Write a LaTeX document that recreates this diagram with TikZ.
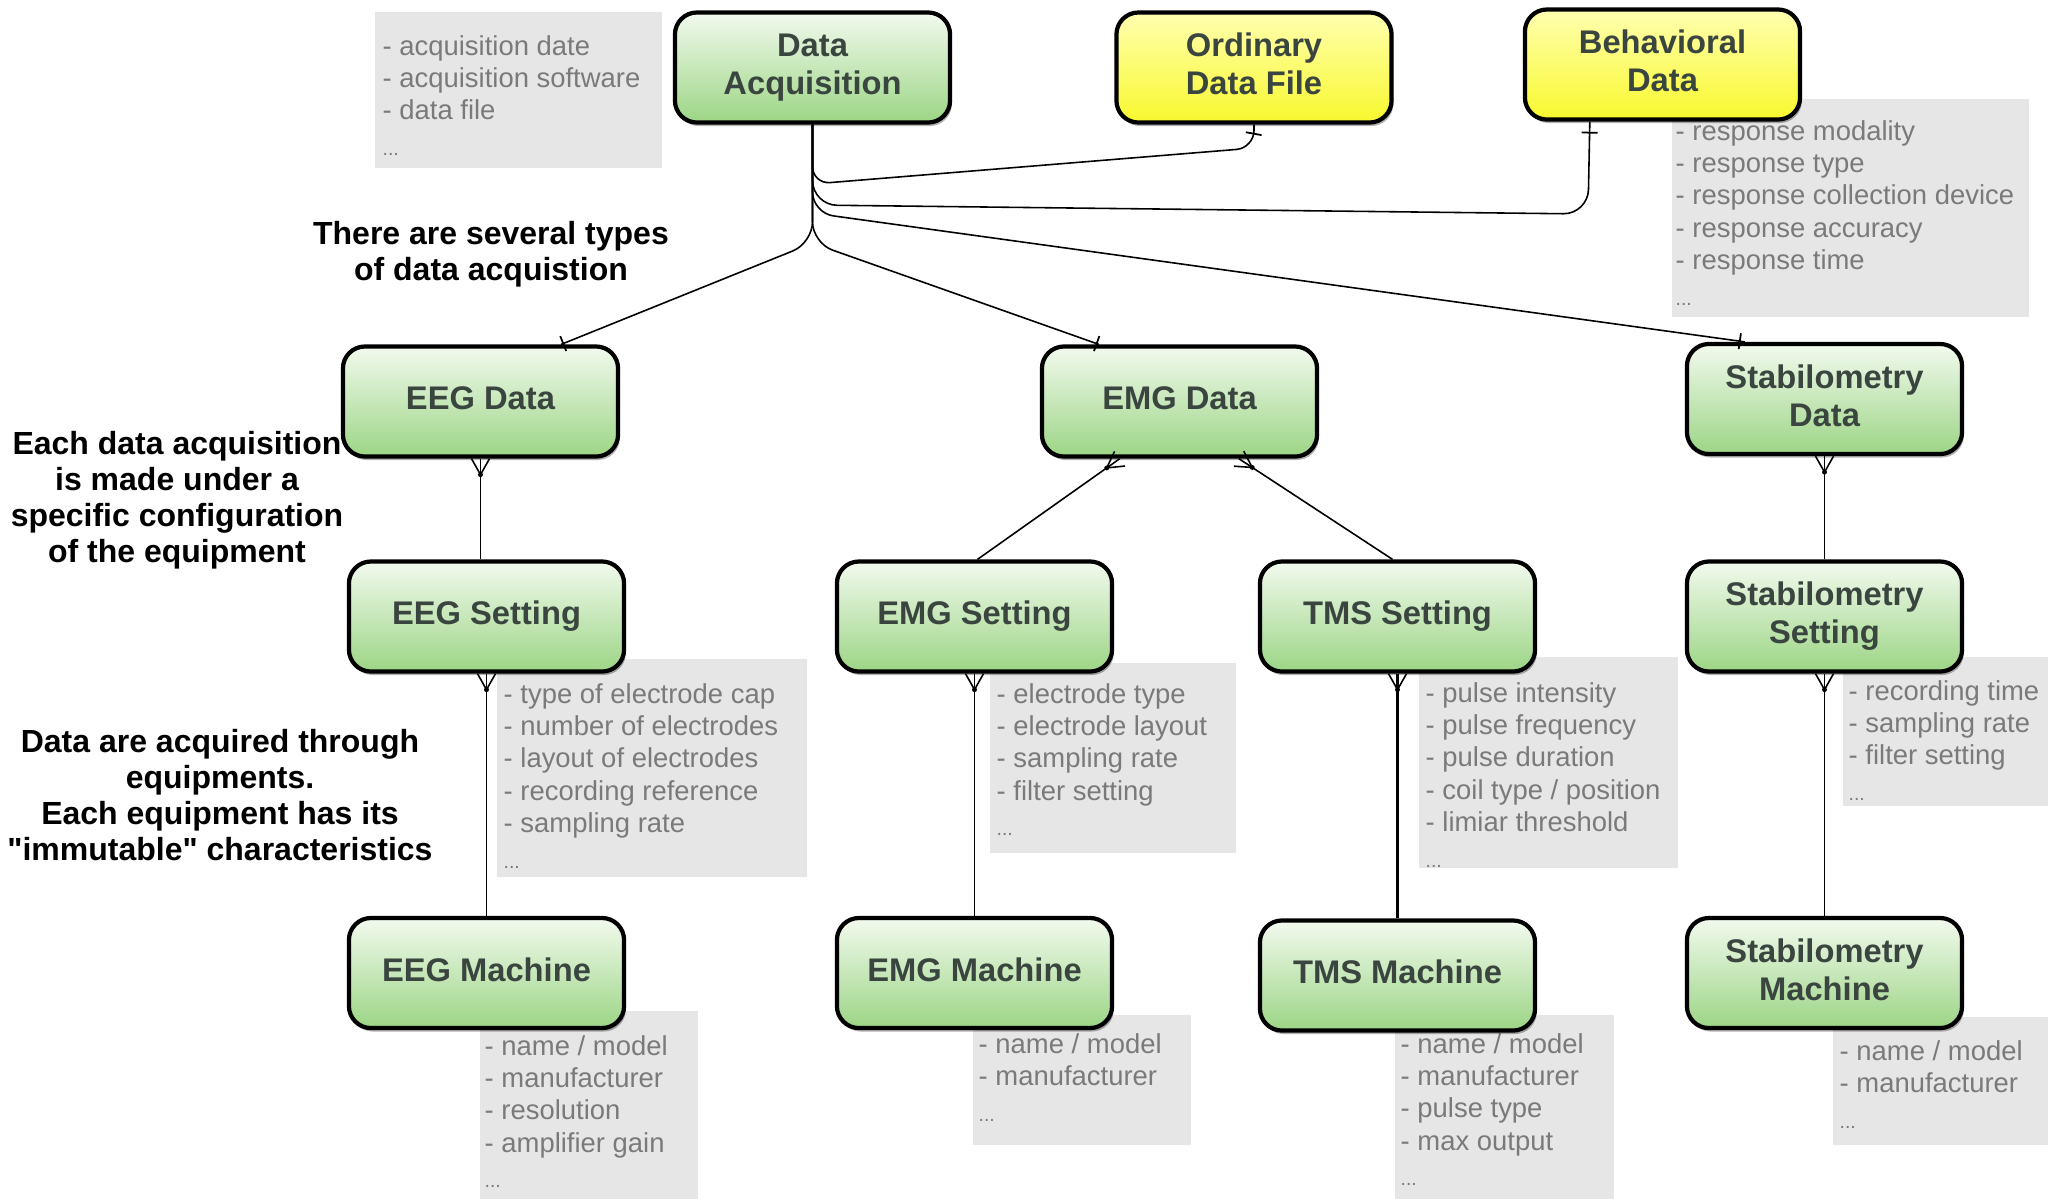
\documentclass[tikz,border=0pt]{standalone}
\usepackage{fontspec}
\setmainfont{Liberation Sans}
\newfontfamily\plainquotes{Liberation Sans}[Ligatures=TeXOff]
\usetikzlibrary{calc,decorations.markings,shadows}

\definecolor{greentop}{HTML}{F2FAEE}
\definecolor{greenbot}{HTML}{9CD585}
\definecolor{yellowtop}{HTML}{FFFFB0}
\definecolor{yellowbot}{HTML}{F8F82E}
\definecolor{titletext}{HTML}{3A4540}
\definecolor{notefill}{HTML}{E6E6E6}
\definecolor{notetext}{HTML}{7A7A7A}

\newcommand\attrdots{{\fontsize{5.5}{6}\selectfont...}}
\newcommand\straightquote{{\plainquotes\bfseries"}}

\begin{document}
\begin{tikzpicture}[x=0.01cm,y=-0.01cm,
  entity/.style={draw=black, line width=1.2pt, rounded corners=0.22cm,
    minimum width=2.75cm, minimum height=1.1cm, inner sep=0pt, align=center,
    text=titletext, font=\fontsize{9.3}{10.8}\selectfont\bfseries,
    top color=greentop, bottom color=greenbot,
    execute at end node={\vphantom{g}},
    drop shadow={shadow xshift=0.5pt, shadow yshift=-1pt, fill=black, opacity=0.3}},
  refentity/.style={entity, top color=yellowtop, bottom color=yellowbot},
  attrbox/.style={fill=notefill, draw=none},
  attrlist/.style={anchor=base west, inner sep=0pt, text=notetext,
    font=\fontsize{7.8}{9.2}\selectfont},
  remark/.style={align=center, inner sep=0pt, text=black,
    font=\fontsize{9.1}{10.25}\selectfont\bfseries},
  conn/.style={draw=black, line width=0.45pt},
  heavyconn/.style={draw=black, line width=0.9pt},
  onetick/.style={postaction={decorate, decoration={markings,
    mark=at position #1 with {\draw[line width=0.5pt] (0,-8) -- (0,8);}}}},
  crowfoot/.style={postaction={decorate, decoration={markings,
    mark=at position 0.0001 with {\draw[line width=0.45pt] (0,9) -- (16,0) -- (0,-9);
      \fill (16,0) circle (0.7pt);}}}}
]
\useasboundingbox (0,0) rectangle (2048,1199);
\fill[white] (0,0) rectangle (2048,1199);

% attribute lists
\fill[attrbox] (375,12) rectangle (662,168);
\node[attrlist] (daattr) at (382,55) {\begin{tabular}[t]{@{}l@{}}- acquisition date\\- acquisition software\\- data file\\[1pt]\attrdots\end{tabular}};

\fill[attrbox] (1672,99) rectangle (2029,317);
\node[attrlist] (bdattr) at (1675,140) {\begin{tabular}[t]{@{}l@{}}- response modality\\- response type\\- response collection device\\- response accuracy\\- response time\\[1pt]\attrdots\end{tabular}};

\fill[attrbox] (497,659) rectangle (807,877);
\node[attrlist] (eegsattr) at (503,703) {\begin{tabular}[t]{@{}l@{}}- type of electrode cap\\- number of electrodes\\- layout of electrodes\\- recording reference\\- sampling rate\\[1pt]\attrdots\end{tabular}};

\fill[attrbox] (990,663) rectangle (1236,853);
\node[attrlist] (emgsattr) at (996,703) {\begin{tabular}[t]{@{}l@{}}- electrode type\\- electrode layout\\- sampling rate\\- filter setting\\[1pt]\attrdots\end{tabular}};

\fill[attrbox] (1419,657) rectangle (1678,868);
\node[attrlist] (tmssattr) at (1425,702) {\begin{tabular}[t]{@{}l@{}}- pulse intensity\\- pulse frequency\\- pulse duration\\- coil type / position\\- limiar threshold\\[1pt]\attrdots\end{tabular}};

\fill[attrbox] (1843,657) rectangle (2048,806);
\node[attrlist] (ssattr) at (1848,700) {\begin{tabular}[t]{@{}l@{}}- recording time\\- sampling rate\\- filter setting\\[1pt]\attrdots\end{tabular}};

\fill[attrbox] (480,1011) rectangle (698,1199);
\node[attrlist] (eegmattr) at (484,1055) {\begin{tabular}[t]{@{}l@{}}- name / model\\- manufacturer\\- resolution\\- amplifier gain\\[1pt]\attrdots\end{tabular}};

\fill[attrbox] (973,1015) rectangle (1191,1145);
\node[attrlist] (emgmattr) at (978,1053) {\begin{tabular}[t]{@{}l@{}}- name / model\\- manufacturer\\[1pt]\attrdots\end{tabular}};

\fill[attrbox] (1395,1015) rectangle (1614,1199);
\node[attrlist] (tmsmattr) at (1400,1053) {\begin{tabular}[t]{@{}l@{}}- name / model\\- manufacturer\\- pulse type\\- max output\\[1pt]\attrdots\end{tabular}};

\fill[attrbox] (1833,1017) rectangle (2048,1145);
\node[attrlist] (smattr) at (1839,1060) {\begin{tabular}[t]{@{}l@{}}- name / model\\- manufacturer\\[1pt]\attrdots\end{tabular}};

% entities
\node[entity] (DA) at (812.5,67.5) {Data\\Acquisition};
\node[refentity] (ODF) at (1254,67.5) {Ordinary\\Data File};
\node[refentity] (BD) at (1662.5,64.5) {Behavioral\\Data};

\node[entity] (EEGD) at (480.5,401.5) {EEG Data};
\node[entity] (EMGD) at (1179.5,401.5) {EMG Data};
\node[entity] (SD) at (1824.5,399) {Stabilometry\\Data};

\node[entity] (EEGS) at (486.5,616.5) {EEG Setting};
\node[entity] (EMGS) at (974.5,616.5) {EMG Setting};
\node[entity] (TMSS) at (1397.5,616.5) {TMS Setting};
\node[entity] (SS) at (1824.5,616.5) {Stabilometry\\Setting};

\node[entity] (EEGM) at (486.5,973) {EEG Machine};
\node[entity] (EMGM) at (974.5,973) {EMG Machine};
\node[entity] (TMSM) at (1397.5,975.5) {TMS Machine};
\node[entity] (SM) at (1824.5,973) {Stabilometry\\Machine};

% remarks
\node[remark] (types) at (491,254) {There are several types\\of data acquistion};
\node[remark] (config) at (177,500) {Each data acquisition\\is made under a\\specific configuration\\of the equipment};
\node[remark] (equip) at (220,795) {Data are acquired through\\equipments.\\Each equipment has its\\\straightquote immutable\straightquote{} characteristics};

% links from the acquisition record
\draw[conn, rounded corners=5pt, onetick=-0.09cm]
  (DA.south) -- (812.5,184) -- (1254,148) -- (ODF.south);
\draw[conn, rounded corners=7pt, onetick=-0.11cm]
  (DA.south) -- (812.5,205) -- (1588,214) -- ($(BD.south west)+(67,0)$);
\draw[conn, rounded corners=6pt, onetick=-0.05cm]
  (DA.south) -- (812.5,213) -- ($(SD.north west)+(60,0)$);
\draw[conn, rounded corners=6pt, onetick=-0.02cm]
  (DA.south) -- (812.5,243) -- ($(EMGD.north west)+(59,0)$);
\draw[conn, rounded corners=6pt, onetick=-0.02cm]
  (DA.south) -- (812.5,243) -- ($(EEGD.north east)+(-59,0)$);

% data -> setting -> machine
\draw[conn, crowfoot] (EEGD.south) -- (EEGD.south |- EEGS.north);
\draw[conn, crowfoot] (EEGS.south) -- (EEGM.north);
\draw[conn, crowfoot] ($(EMGD.south west)+(80,0)$) -- ($(EMGS.north)+(3,0)$);
\draw[conn, crowfoot] ($(EMGD.south west)+(199,0)$) -- ($(TMSS.north)+(-5,0)$);
\draw[conn, crowfoot] (EMGS.south) -- (EMGM.north);
\draw[heavyconn, crowfoot] (TMSS.south) -- (TMSM.north);
\draw[conn, crowfoot] (SD.south) -- (SS.north);
\draw[conn, crowfoot] (SS.south) -- (SM.north);
\end{tikzpicture}
\end{document}
